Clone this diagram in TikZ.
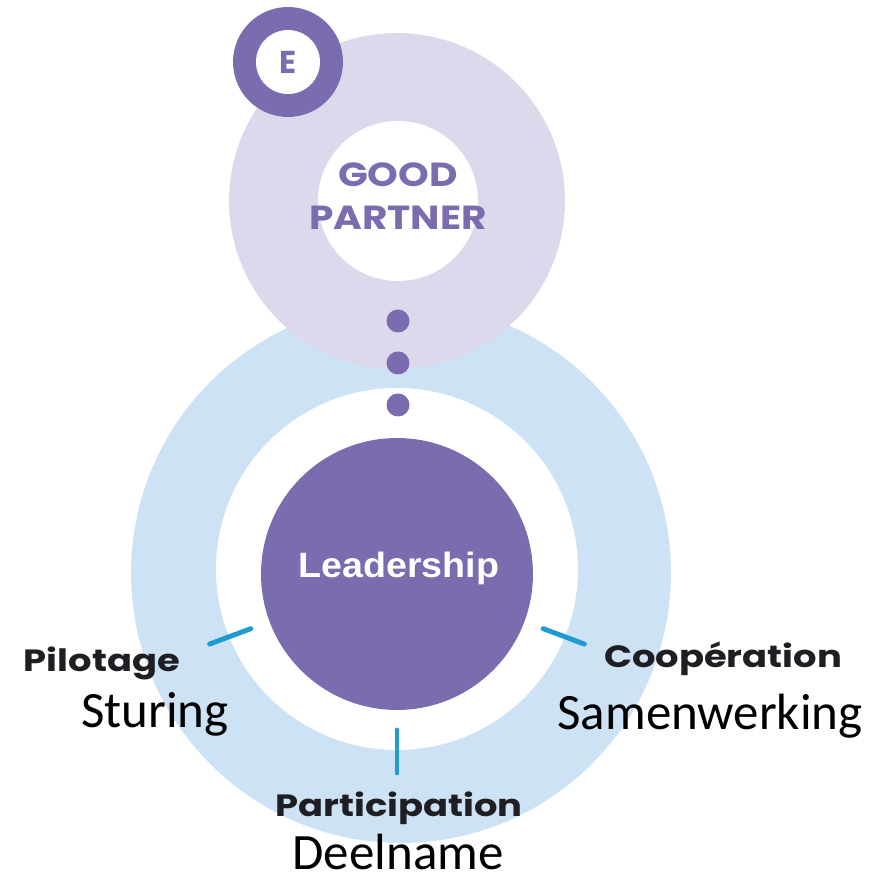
\documentclass[tikz,border=0pt]{standalone}
\usepackage{fontspec}
\usepackage{tikz}
\usetikzlibrary{positioning}
\newfontfamily\popfont{Poppins}
\newfontfamily\calfont{Carlito}
\newfontfamily\arialfont{Liberation Sans}
\definecolor{ringblue}{RGB}{205,226,244}
\definecolor{ringlav}{RGB}{220,217,236}
\definecolor{gpurple}{RGB}{123,108,175}
\definecolor{tickblue}{RGB}{30,155,208}
\definecolor{labeldark}{RGB}{30,30,35}

\begin{document}
\begin{tikzpicture}[
  x=0.02cm, y=0.02cm,
  node distance=0.38cm,
  disc/.style={circle, inner sep=0pt, outer sep=0pt},
  dot/.style={disc, fill=gpurple, minimum size=0.46cm},
  tickline/.style={line width=2.8pt, line cap=round, tickblue},
  fr/.style={font=\popfont\bfseries\fontsize{17.5}{20}\selectfont,
             text=labeldark, inner sep=0pt, anchor=base,
             xscale=1.2, transform shape},
  nl/.style={font=\calfont\fontsize{29}{32}\selectfont, text=black,
             inner sep=0pt, anchor=base},
  gp/.style={font=\popfont\bfseries\fontsize{19}{22}\selectfont,
             text=gpurple, inner sep=0pt, anchor=base,
             xscale=1.17, transform shape},
]
\useasboundingbox (0,0) rectangle (894,883);

% Rings
\node[disc, fill=ringblue, minimum size=10.8cm]  (outer) at (401,310) {};
\node[disc, fill=white,    minimum size=7.24cm]  (gap)   at (397,314) {};
\node[disc, fill=ringlav,  minimum size=6.72cm]  (gpout) at (397,682) {};
\node[disc, fill=white,    minimum size=3.2cm]   (gpin)  at (398,682) {};

% Badge
\node[disc, fill=gpurple, minimum size=2.2cm]  (badge) at (288,821) {};
\node[disc, fill=white,   minimum size=1.28cm] (badgein) at (badge) {};
\node[font=\popfont\bfseries\fontsize{18}{20}\selectfont, text=gpurple,
      inner sep=0pt] (e) at (badge) {E};

% Dots
\node[dot] (dot1) at (398,562) {};
\node[dot, below=of dot1] (dot2) {};
\node[dot, below=of dot2] (dot3) {};

% Core
\node[disc, fill=gpurple, minimum size=5.44cm] (lead) at (397,309) {};
\node[font=\arialfont\bfseries\fontsize{20}{24}\selectfont, text=white,
      inner sep=0pt, anchor=base, xscale=1.07, transform shape]
      (leadtxt) at (399,305) {Leadership};

\node[gp] (good)    at (398,696) {GOOD};
\node[gp] (partner) at (398,653) {PARTNER};

% Ticks
\draw[tickline] ([shift={(-159.5:156)}]lead.center) -- ([shift={(-159.5:200)}]lead.center);
\draw[tickline] ([shift={(-20.5:156)}]lead.center)  -- ([shift={(-20.5:200)}]lead.center);
\draw[tickline] ([shift={(-90:156)}]lead.center)    -- ([shift={(-90:199)}]lead.center);

% Labels
\node[fr] (pil)  at (102,211) {Pilotage};
\node[fr] (coop) at (723,215) {Coopération};
\node[fr] (part) at (399,66)  {Participation};
\node[nl] (stu)  at (155,155) {Sturing};
\node[nl] (sam)  at (710,153) {Samenwerking};
\node[nl] (deel) at (398,13)  {Deelname};

\end{tikzpicture}
\end{document}
